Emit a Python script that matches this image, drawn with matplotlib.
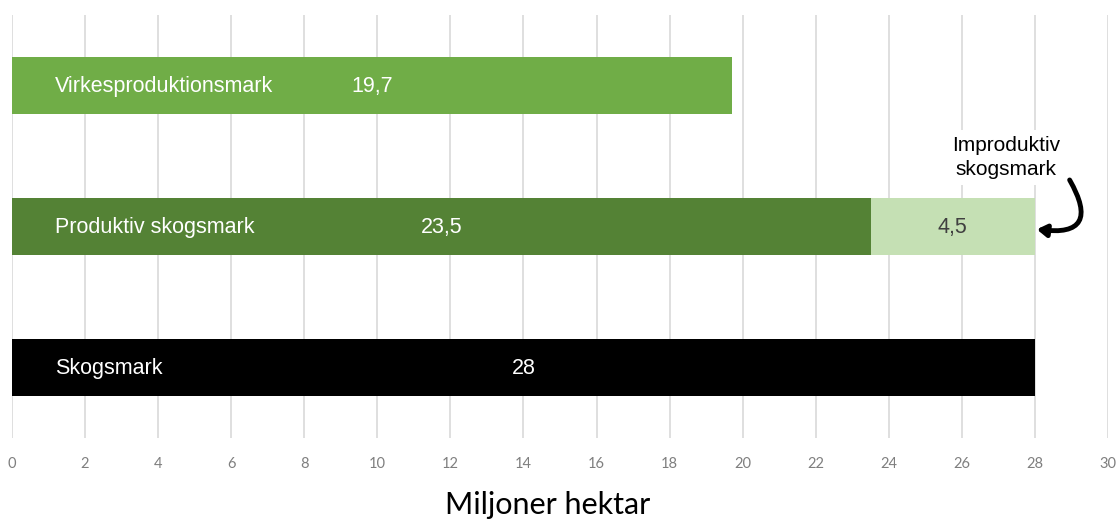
import matplotlib
matplotlib.use("Agg")
import matplotlib.pyplot as plt

categories = ["Skogsmark", "Produktiv skogsmark", "Virkesproduktionsmark"]
main_values = [28, 23.5, 19.7]
main_labels = ["28", "23,5", "19,7"]
extra_values = [0, 4.5, 0]
extra_labels = ["", "4,5", ""]
main_colors = ["#000000", "#548235", "#70AD47"]
extra_color = "#C5E0B4"
xticks = list(range(0, 31, 2))

fig = plt.figure(figsize=(11.2, 5.2), dpi=100)
ax = fig.add_axes([12/1120, 1-438/520, 1096/1120, 423/520])

ypos = list(range(len(categories)))
ax.barh(ypos, main_values, height=0.4, color=main_colors, zorder=2)
ax.barh(ypos, extra_values, left=main_values, height=0.4, color=extra_color, zorder=2)

bar_font = dict(family=["Liberation Sans", "DejaVu Sans"], fontsize=15.5)
for y, cat, v, lab in zip(ypos, categories, main_values, main_labels):
    ax.text(1.17, y - 0.01, cat, color="white", va="center", ha="left", zorder=3, **bar_font)
    ax.text(v/2, y - 0.01, lab, color="white", va="center", ha="center", zorder=3, **bar_font)
for y, base, v, lab in zip(ypos, main_values, extra_values, extra_labels):
    if v:
        ax.text(base + v/2, y - 0.01, lab, color="#404040", va="center", ha="center", zorder=3, **bar_font)

ax.set_xlim(0, 30)
ax.set_ylim(-0.5, 2.5)
ax.set_xticks(xticks)
ax.set_xticklabels([str(t) for t in xticks], fontsize=10.5, color="#7f7f7f", family=["Lato", "DejaVu Sans"])
ax.tick_params(axis="x", length=0, pad=14)
ax.set_yticks([])
ax.grid(axis="x", color="#D9D9D9", linewidth=1.2, zorder=0)
for s in ax.spines.values():
    s.set_visible(False)

ax.text(27.2, 1.49, "Improduktiv\nskogsmark", ha="center", va="center", color="black",
        fontsize=15, family=["Liberation Sans", "DejaVu Sans"], linespacing=1.35,
        bbox=dict(facecolor="white", edgecolor="none", pad=4), zorder=4)
ax.annotate("", xy=(28.05, 0.98), xytext=(28.95, 1.33),
            arrowprops=dict(arrowstyle="-|>,head_length=0.55,head_width=0.35", color="black", lw=3.5,
                            connectionstyle="arc3,rad=-1.0", shrinkA=0, shrinkB=0), zorder=5)

fig.text(548/1120, 1-505/520, "Miljoner hektar", ha="center", va="center", fontsize=22,
         family=["Lato", "DejaVu Sans"], color="black")

fig.savefig("out.png", dpi=100)
